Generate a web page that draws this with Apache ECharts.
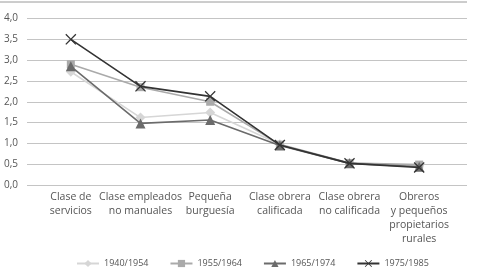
<!DOCTYPE html>
<html><head><meta charset="utf-8">
<script src="https://cdn.jsdelivr.net/npm/echarts@6/dist/echarts.min.js"></script>
<style>html,body{margin:0;padding:0;background:#fff}#c{width:477px;height:278px}</style>
</head><body><div id="c"></div>
<script>
var categories = ['Clase de\nservicios','Clase empleados\nno manuales','Pequeña\nburguesía','Clase obrera\ncalificada','Clase obrera\nno calificada','Obreros\ny pequeños\npropietarios\nrurales'];
var seriesNames = ['1940/1954','1955/1964','1965/1974','1975/1985'];
var s1940 = [2.72, 1.62, 1.74, 0.98, 0.53, 0.46];
var s1955 = [2.9, 2.35, 2.0, 0.97, 0.53, 0.49];
var s1965 = [2.85, 1.48, 1.56, 0.95, 0.52, 0.44];
var s1975 = [3.5, 2.37, 2.13, 0.96, 0.52, 0.42];
var yTicks = [0, 4, 0.5];

var xPath = 'path://M1,0L6,5L11,0L12,1L7,6L12,11L11,12L6,7L1,12L0,11L5,6L0,1Z';
var styles = [
  {c:'#d6d6d6', sym:'diamond', size:10},
  {c:'#aaaaaa', sym:'rect', size:8},
  {c:'#6b6b6b', sym:'triangle', size:10},
  {c:'#333333', sym:xPath, size:11}
];
var data = [s1940, s1955, s1965, s1975];
var font = 'Open Sans';
var chart = echarts.init(document.getElementById('c'));
chart.setOption({
  animation:false,
  textStyle:{fontFamily:font},
  graphic:[{type:'line',shape:{x1:0,y1:2,x2:467,y2:2},style:{stroke:'#9a9a9a',lineWidth:1}}],
  grid:[{left:27,right:10,top:18.5,bottom:93},{left:36,right:23,top:18.5,bottom:93}],
  xAxis:[
    {gridIndex:0,type:'category',data:categories,show:false},
    {gridIndex:1,type:'category',data:categories,axisLine:{show:false},axisTick:{show:false},
     axisLabel:{interval:0,color:'#555',fontSize:10.5,lineHeight:14,margin:5,fontFamily:font}}
  ],
  yAxis:[
    {gridIndex:0,type:'value',min:yTicks[0],max:yTicks[1],interval:yTicks[2],
     axisLine:{show:false},axisTick:{show:false},
     splitLine:{lineStyle:{color:'#c4c4c4',width:1}},
     axisLabel:{color:'#555',fontSize:10,margin:9,fontFamily:font,
       formatter:function(v){return v.toFixed(1).replace('.',',');}}},
    {gridIndex:1,type:'value',min:yTicks[0],max:yTicks[1],interval:yTicks[2],show:false,splitLine:{show:false}}
  ],
  legend:{top:254,left:71,itemWidth:22,itemHeight:9,itemGap:21,
    textStyle:{color:'#555',fontSize:9,fontFamily:font},data:seriesNames},
  series: seriesNames.map(function(n,i){
    return {name:n,type:'line',xAxisIndex:1,yAxisIndex:1,data:data[i],
      symbol:styles[i].sym,symbolSize:styles[i].size,showSymbol:true,
      lineStyle:{color:styles[i].c,width:1.6},
      itemStyle:{color:styles[i].c},z:2+i};
  })
});
</script></body></html>
